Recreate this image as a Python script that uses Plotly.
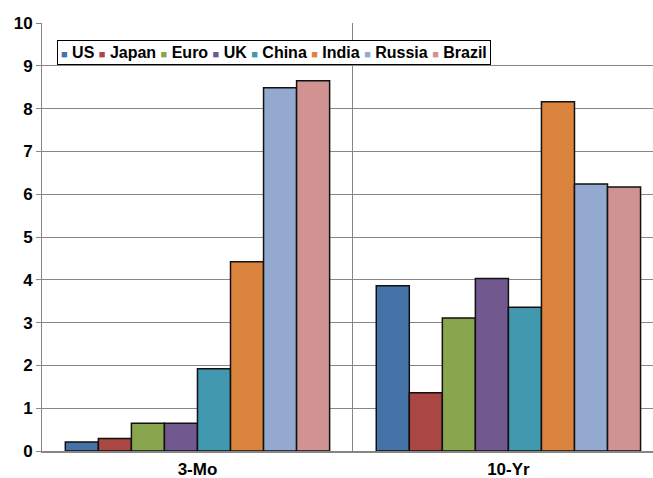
import plotly.graph_objects as go

categories = ["3-Mo", "10-Yr"]
countries = ["US", "Japan", "Euro", "UK", "China", "India", "Russia", "Brazil"]
values_3mo = [0.21, 0.29, 0.65, 0.65, 1.92, 4.42, 8.49, 8.65]
values_10yr = [3.86, 1.36, 3.11, 4.03, 3.36, 8.16, 6.24, 6.17]
colors = ["#4572A7", "#AA4643", "#89A54E", "#71588F", "#4198AF", "#DB843D", "#93A9CF", "#D19392"]
y_ticks = list(range(0, 11))

FONT = "Liberation Sans, Arial, sans-serif"

fig = go.Figure()
for i, name in enumerate(countries):
    fig.add_trace(go.Bar(
        x=categories,
        y=[values_3mo[i], values_10yr[i]],
        name=name,
        marker=dict(color=colors[i], line=dict(color="#111111", width=1.5)),
        showlegend=False,
    ))

# legend built as one text box
parts = []
for name, c in zip(countries, colors):
    parts.append(f"<span style='color:{c};font-size:11px'>■</span> {name}")
legend_text = "<b>" + " ".join(parts) + "</b>"

fig.add_annotation(
    text=legend_text, xref="paper", yref="paper",
    x=0.0245, y=0.96, xanchor="left", yanchor="top",
    showarrow=False, align="left",
    font=dict(family=FONT, size=16, color="#000000"),
    bgcolor="#ffffff", bordercolor="#000000", borderwidth=1, borderpad=3,
)

fig.update_layout(
    width=653, height=478,
    margin=dict(l=42, r=0, t=23, b=27),
    paper_bgcolor="#ffffff", plot_bgcolor="#ffffff",
    barmode="group", bargap=0.15, bargroupgap=0,
    font=dict(family=FONT, size=17, color="#000000", weight="bold"),
)
fig.update_xaxes(
    type="category", range=[-0.5, 1.465], automargin=False,
    showline=True, linecolor="#868686", linewidth=2,
    showgrid=True, gridcolor="#868686", gridwidth=1, tickson="boundaries",
    ticks="", ticklen=0, ticklabelstandoff=2,
    tickfont=dict(family=FONT, size=17, color="#000000", weight="bold"),
)
fig.update_yaxes(
    range=[0, 10], tickvals=y_ticks, automargin=False,
    showline=True, linecolor="#868686", linewidth=1,
    showgrid=True, gridcolor="#868686", gridwidth=1,
    ticks="outside", ticklen=5, tickcolor="#868686",
    zeroline=False,
    tickfont=dict(family=FONT, size=17, color="#000000", weight="bold"),
)

fig.write_html("out.html")
